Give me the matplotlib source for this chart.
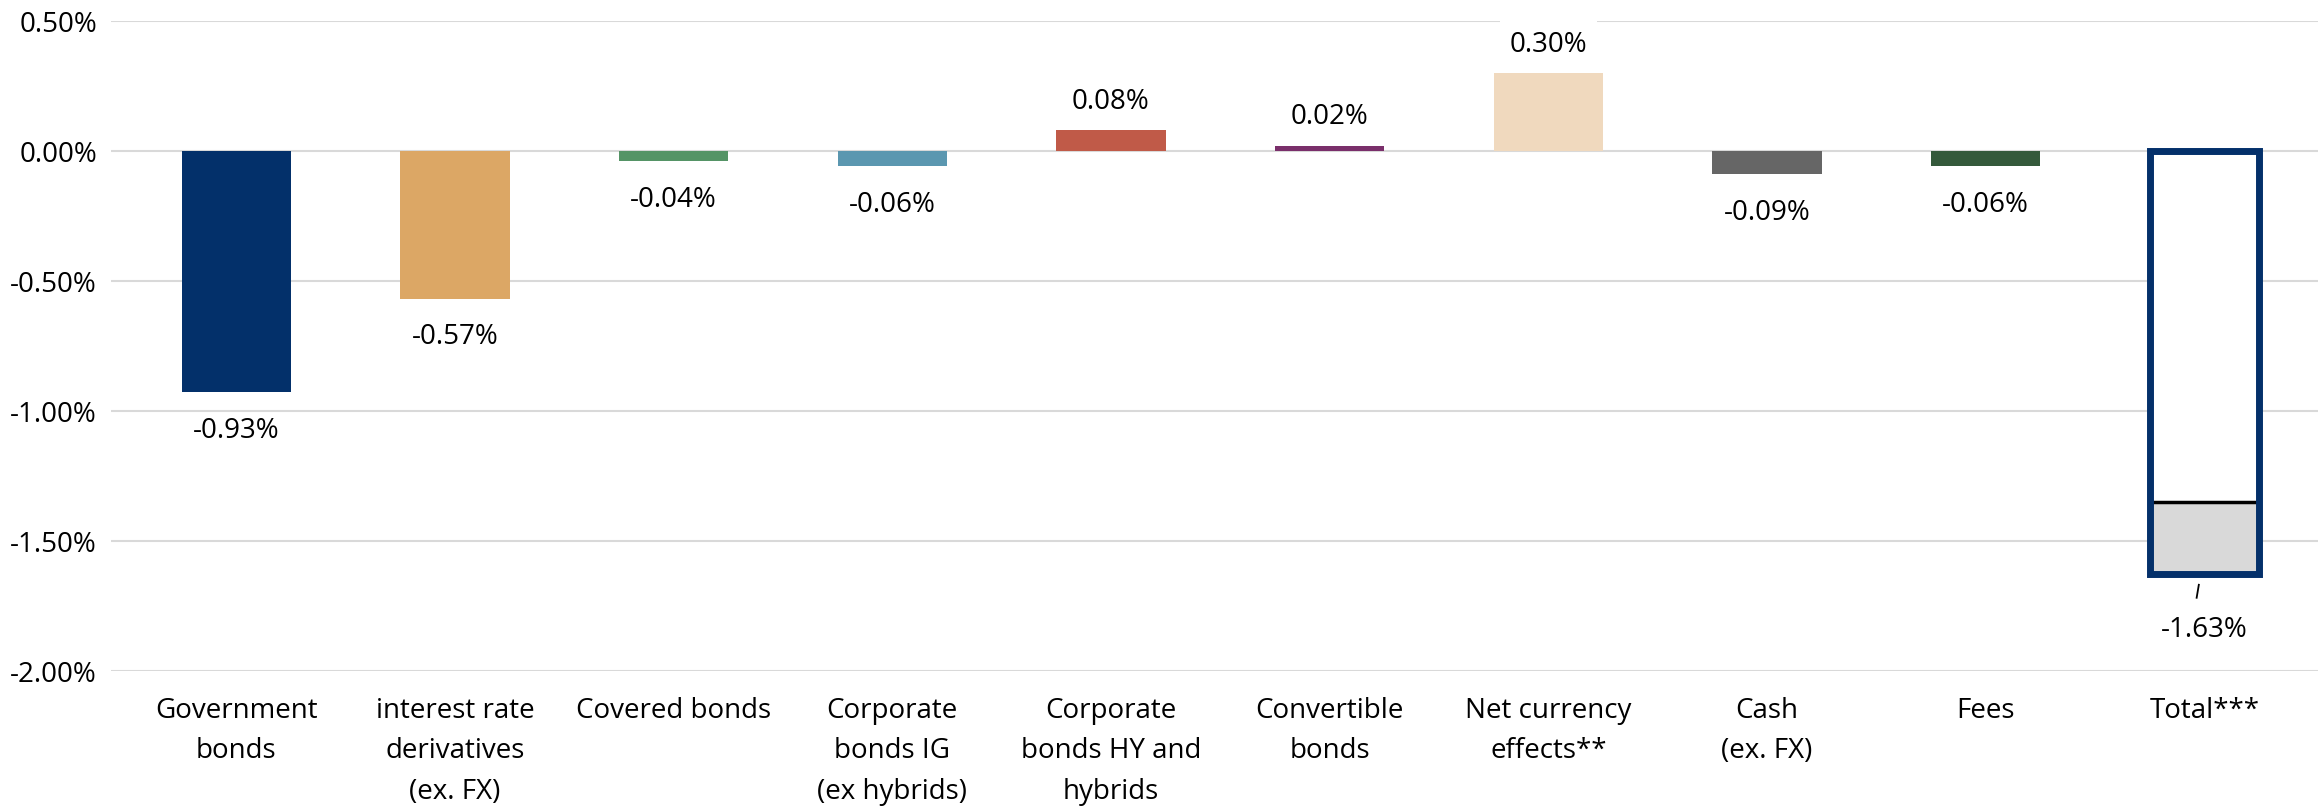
import matplotlib.pyplot as plt

#Categorias e valores (%)
categories = ['Government\nbonds', 'interest rate\nderivatives\n(ex. FX)', 'Covered bonds',
              'Corporate\nbonds IG\n(ex hybrids)', 'Corporate\nbonds HY and\nhybrids',
              'Convertible\nbonds', 'Net currency\neffects**', 'Cash\n(ex. FX)', 'Fees', 'Total***']
values = [-0.93, -0.57, -0.04, -0.06, 0.08, 0.02, 0.30, -0.09, -0.06]
total_value = -1.63
colors = ['#03306A', '#DCA765', '#559466', '#5B97B0', '#C05A48', '#7A2F6B', '#F0D9BE', '#666666', '#34593B']
yticks = [0.5, 0.0, -0.5, -1.0, -1.5, -2.0]

plt.rcParams['font.family'] = ['Open Sans', 'DejaVu Sans']
plt.rcParams['font.size'] = 20

fig = plt.figure(figsize=(23.18, 8.12), dpi=100)
ax = fig.add_axes([0.0478, 0.173, 0.9522, 0.8])

x = list(range(len(values)))
ax.bar(x, values, width=0.5, color=colors, zorder=3)

#Barra total: contorno azul, parte branca = soma dos componentes, parte cinza = resto
sum_comp = sum(values)
xt = len(values)
ax.bar(xt, sum_comp, width=0.5, color='white', edgecolor='black', linewidth=1, zorder=3)
ax.bar(xt, total_value - sum_comp, bottom=sum_comp, width=0.5, color='#D9D9D9', zorder=3)
ax.plot([xt - 0.25, xt + 0.25], [sum_comp, sum_comp], color='black', linewidth=2.5, zorder=4)
ax.bar(xt, total_value, width=0.5, color='none', edgecolor='#04306A', linewidth=5, zorder=5)

#Rótulos
for i, v in enumerate(values):
    off = 21 if v > 0 else -27
    bbox = dict(boxstyle='square,pad=0.35', fc='white', ec='none') if v > 0 else None
    ax.annotate(f'{v:.2f}%', (i, v), xytext=(0, off), textcoords='offset points',
                ha='center', va='center', bbox=bbox, zorder=6)
ax.annotate(f'{total_value:.2f}%', (xt, total_value), xytext=(0, -39), textcoords='offset points',
            ha='center', va='center', zorder=6)
ax.plot([xt - 0.025, xt - 0.035], [total_value - 0.04, total_value - 0.09], color='black', lw=1.3, zorder=6)

ax.set_xlim(-0.574, 9.52)
ax.set_ylim(-2.0, 0.5)
ax.set_yticks(yticks)
ax.set_yticklabels([f'{t:.2f}%' for t in yticks])
ax.set_xticks(range(len(categories)))
ax.set_xticklabels(categories, linespacing=1.6, va='top')
ax.tick_params(axis='both', length=0)
ax.tick_params(axis='y', pad=10)
ax.tick_params(axis='x', pad=18)
ax.grid(axis='y', color='#D9D9D9', linewidth=1.5, zorder=0)
ax.set_axisbelow(True)
for s in ax.spines.values():
    s.set_visible(False)

plt.savefig('out.png')
plt.close()
